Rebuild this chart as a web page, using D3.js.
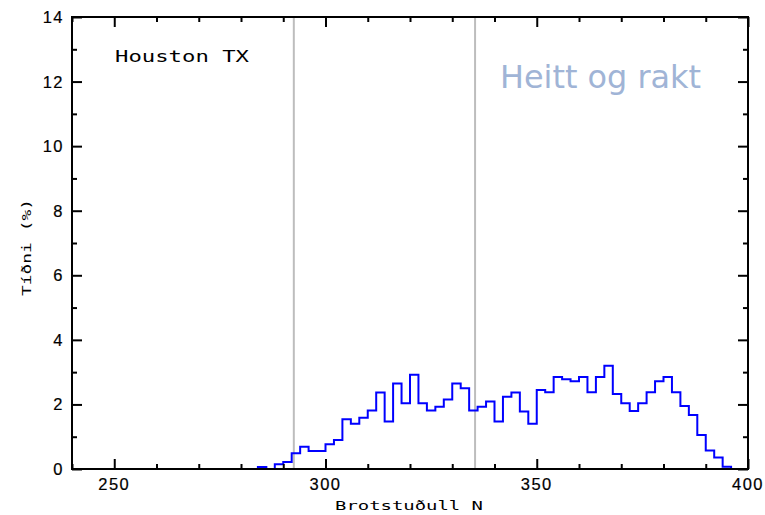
<!DOCTYPE html>
<html><head><meta charset="utf-8">
<script src="https://cdn.jsdelivr.net/npm/d3@7"></script>
<style>body{margin:0;background:#fff}svg{display:block}</style>
</head><body>
<svg id="c" width="765" height="515"></svg>
<script>
const binEdges = [284,286,288,290,292,294,296,298,300,302,304,306,308,310,312,314,316,318,320,322,324,326,328,330,332,334,336,338,340,342,344,346,348,350,352,354,356,358,360,362,364,366,368,370,372,374,376,378,380,382,384,386,388,390,392,394,396];
const freq = [0.06,0,0.15,0.22,0.49,0.69,0.56,0.56,0.77,0.90,1.54,1.40,1.59,1.81,2.37,1.47,2.65,2.04,2.92,2.04,1.81,1.93,2.15,2.65,2.50,1.81,1.93,2.09,1.47,2.24,2.37,1.78,1.40,2.45,2.38,2.85,2.78,2.72,2.85,2.38,2.85,3.20,2.32,2.04,1.80,2.04,2.38,2.72,2.85,2.38,1.95,1.67,1.05,0.57,0.36,0.07];
const refLines = [292.5, 335.4];
const xMajor = [250,300,350,400];
const xMinor = [240,260,270,280,290,310,320,330,340,360,370,380,390];
const yMajor = [0,2,4,6,8,10,12,14];
const yMinor = [1,3,5,7,9,11,13];
const xTitle = "Brotstuðull N", yTitle = "Tíðni (%)";
const cityLabel = "Houston TX", conditionLabel = "Heitt og rakt";

const svg = d3.select("#c");
const L=72, R=748, T=17, B=469;
const x = d3.scaleLinear().domain([240,400]).range([L,R]);
const y = d3.scaleLinear().domain([0,14]).range([B,T]);

svg.selectAll("line.ref").data(refLines).join("line")
  .attr("x1",d=>x(d)).attr("x2",d=>x(d)).attr("y1",T).attr("y2",B)
  .attr("stroke","#bdbdbd").attr("stroke-width",2);

const pts = [[binEdges[0],0]];
freq.forEach((v,i)=>pts.push([binEdges[i],v]));
pts.push([binEdges[binEdges.length-1],0]);
const line = d3.line().x(d=>x(d[0])).y(d=>y(d[1])).curve(d3.curveStepAfter);
svg.append("path").attr("d",line(pts)).attr("fill","none")
  .attr("stroke","#0000ff").attr("stroke-width",2).attr("stroke-linejoin","miter");

function ax(gen, tr, vals, size){
  const g = svg.append("g").attr("transform",tr)
    .call(gen.tickValues(vals).tickSize(size).tickFormat(""));
  g.select(".domain").remove();
  g.selectAll(".tick line").attr("stroke","#000").attr("stroke-width",2);
  return g;
}
ax(d3.axisTop(x), `translate(0,${B})`, xMajor, 10);
ax(d3.axisTop(x), `translate(0,${B})`, xMinor, 5);
ax(d3.axisBottom(x), `translate(0,${T})`, xMajor, 10);
ax(d3.axisBottom(x), `translate(0,${T})`, xMinor, 5);
ax(d3.axisRight(y), `translate(${L},0)`, yMajor, 10);
ax(d3.axisRight(y), `translate(${L},0)`, yMinor, 5);
ax(d3.axisLeft(y), `translate(${R},0)`, yMajor, 10);
ax(d3.axisLeft(y), `translate(${R},0)`, yMinor, 5);

svg.append("rect").attr("x",L).attr("y",T).attr("width",R-L).attr("height",B-T)
  .attr("fill","none").attr("stroke","#000").attr("stroke-width",2);

const tf = "'Liberation Sans', Arial, sans-serif";
svg.selectAll("text.xt").data(xMajor).join("text")
  .attr("x",d=>x(d)).attr("y",490).attr("text-anchor","middle")
  .attr("font-family",tf).attr("font-size",16.5).attr("letter-spacing",1.5)
  .attr("stroke","#000").attr("stroke-width",0.2).text(d=>d);
svg.selectAll("text.yt").data(yMajor).join("text")
  .attr("x",64).attr("y",d=>y(d)+6).attr("text-anchor","end")
  .attr("font-family",tf).attr("font-size",16.5).attr("letter-spacing",1.5)
  .attr("stroke","#000").attr("stroke-width",0.2).text(d=>d);

const mono = "'DejaVu Sans Mono', monospace";
svg.append("text").attr("x",335).attr("y",510).attr("font-family",mono)
  .attr("font-size",13).attr("textLength",148).attr("lengthAdjust","spacingAndGlyphs").text(xTitle);
svg.append("text").attr("transform","translate(31,296) rotate(-90)").attr("font-family",mono)
  .attr("font-size",13).attr("textLength",97).attr("lengthAdjust","spacingAndGlyphs").text(yTitle);
svg.append("text").attr("x",115).attr("y",62).attr("font-family",mono)
  .attr("font-size",16.5).attr("textLength",134).attr("lengthAdjust","spacingAndGlyphs").text(cityLabel);
svg.append("text").attr("x",500).attr("y",88).attr("font-family","'DejaVu Sans', Verdana, sans-serif")
  .attr("font-size",32).attr("fill","#a0b4d6").attr("textLength",201).attr("lengthAdjust","spacingAndGlyphs").text(conditionLabel);
</script>
</body></html>
